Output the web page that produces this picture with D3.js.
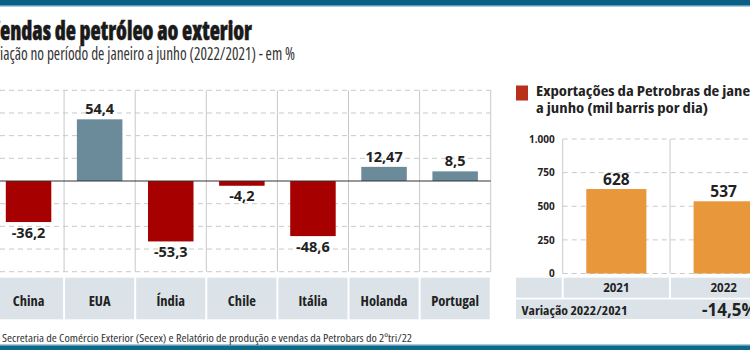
<!DOCTYPE html>
<html>
<head>
<meta charset="utf-8">
<script src="https://cdn.jsdelivr.net/npm/d3@7"></script>
<style>
  body { margin: 0; background: #fff; }
  svg { display: block; }
</style>
</head>
<body>
<div id="chart"></div>
<script>
// Data
const countries = ["China", "EUA", "Índia", "Chile", "Itália", "Holanda", "Portugal"];
const variation = [-36.2, 54.4, -53.3, -4.2, -48.6, 12.47, 8.5];
const varTicks = [-80, -60, -40, -20, 0, 20, 40, 60, 80];

const years = ["2021", "2022"];
const exportsBpd = [628, 537];
const exportTicks = [0, 250, 500, 750, 1000];

const W = 750, H = 350;
const font = "'Open Sans', 'DejaVu Sans Condensed', sans-serif";
const ink = "#222";
const gridColor = "#c9c9c9";
const bandFill = "#dbe2e8";

const svg = d3.select("#chart").append("svg")
    .attr("width", W)
    .attr("height", H)
    .style("font-family", font);

// helper for text styling
function styleText(sel, size, weight, stretch, color) {
    return sel.style("font-size", size + "px")
        .style("font-weight", weight)
        .style("font-stretch", stretch)
        .style("fill", color || ink);
}

// top and bottom strips
svg.append("rect").attr("x", 0).attr("y", 0).attr("width", W).attr("height", 5).attr("fill", "#0b5f86");
svg.append("rect").attr("x", 0).attr("y", 5).attr("width", W).attr("height", 1.5).attr("fill", "#5c9ab8");
svg.append("rect").attr("x", 0).attr("y", 344.5).attr("width", W).attr("height", 1.5).attr("fill", "#5c9ab8");
svg.append("rect").attr("x", 0).attr("y", 346).attr("width", W).attr("height", 4).attr("fill", "#0e6a8a");

// text whose first chars run off the left edge: visible tail spans [0, right]
function clippedText(full, cut, right, y, size, weight, color) {
    const t = styleText(svg.append("text"), size, weight, "75%", color)
        .attr("x", 0)
        .attr("y", y)
        .text(full);
    const wFull = t.node().getComputedTextLength();
    const startVis = t.node().getStartPositionOfChar(cut).x;
    const k = right / (wFull - startVis);
    t.attr("textLength", wFull * k)
        .attr("lengthAdjust", "spacingAndGlyphs");
    const off = t.node().getStartPositionOfChar(cut).x;
    t.attr("x", -off);
    return t;
}

// Titles
clippedText("Vendas de petróleo ao exterior", 1, 252, 40, 26, 800, "#1a1a1a")
    .style("stroke", "#1a1a1a")
    .style("stroke-width", 0.5);
clippedText("Variação no período de janeiro a junho (2022/2021) - em %", 3, 295, 60, 17.5, 400, "#333");

// ---------- Left chart: variation by country ----------
const x = d3.scaleBand()
    .domain(countries)
    .range([-7, 490.7]);

const y = d3.scaleLinear()
    .domain([-80, 80])
    .range([271.7, 90.3]);

const bw = x.bandwidth() * 0.64;

// horizontal dashed gridlines
svg.append("g")
    .selectAll("line")
    .data(varTicks.filter(t => t !== 0))
    .enter()
    .append("line")
    .attr("x1", 0)
    .attr("x2", 490.7)
    .attr("y1", d => y(d))
    .attr("y2", d => y(d))
    .style("stroke", gridColor)
    .style("stroke-width", 1)
    .style("stroke-dasharray", "5,4");

// vertical column lines
const colEdges = countries.map(c => x(c) + x.bandwidth()).filter(v => v > 0);
svg.append("g")
    .selectAll("line")
    .data(colEdges)
    .enter()
    .append("line")
    .attr("x1", d => d)
    .attr("x2", d => d)
    .attr("y1", y(80))
    .attr("y2", y(-80))
    .style("stroke", gridColor)
    .style("stroke-width", 1);

// bars
svg.append("g")
    .selectAll("rect")
    .data(countries)
    .enter()
    .append("rect")
    .attr("x", d => x(d) + (x.bandwidth() - bw) / 2)
    .attr("width", bw)
    .attr("y", (d, i) => y(Math.max(0, variation[i])))
    .attr("height", (d, i) => Math.abs(y(variation[i]) - y(0)))
    .style("fill", (d, i) => variation[i] < 0 ? "#a60000" : "#6b8b9a");

// zero line
svg.append("line")
    .attr("x1", 0)
    .attr("x2", 490.7)
    .attr("y1", y(0))
    .attr("y2", y(0))
    .style("stroke", "#333")
    .style("stroke-width", 1.2);

// value labels
styleText(svg.append("g")
    .selectAll("text")
    .data(countries)
    .enter()
    .append("text")
    .attr("x", d => x(d) + x.bandwidth() / 2)
    .attr("y", (d, i) => variation[i] < 0 ? y(variation[i]) + 15.5 : y(variation[i]) - 5)
    .style("text-anchor", "middle")
    .text((d, i) => String(variation[i]).replace(".", ",")), 14.5, 700, "100%");

// category band
const cats = svg.append("g");
cats.selectAll("rect")
    .data(countries)
    .enter()
    .append("rect")
    .attr("x", d => x(d) + 1)
    .attr("width", x.bandwidth() - 2)
    .attr("y", 277.7)
    .attr("height", 41.6)
    .style("fill", bandFill);

styleText(cats.selectAll("text")
    .data(countries)
    .enter()
    .append("text")
    .attr("x", d => x(d) + x.bandwidth() / 2)
    .attr("y", 306)
    .style("text-anchor", "middle")
    .text(d => d), 14.5, 700, "75%");

// ---------- Right chart: Petrobras exports ----------
const x2 = d3.scaleBand()
    .domain(years)
    .range([562.7, 777.3]);

const y2 = d3.scaleLinear()
    .domain([0, 1000])
    .range([273.5, 139]);

// legend
svg.append("rect")
    .attr("x", 516)
    .attr("y", 85.5)
    .attr("width", 12)
    .attr("height", 15)
    .style("fill", "#b8301c");

const legendLines = ["Exportações da Petrobras de janeiro", "a junho (mil barris por dia)"];
const legendText = styleText(svg.append("g")
    .selectAll("text")
    .data(legendLines)
    .enter()
    .append("text")
    .attr("x", 536)
    .attr("y", (d, i) => 96 + i * 17)
    .text(d => d), 15, 700, "75%");
// widen both lines by the factor that brings the second one to its measured width
const legendK = 172 / legendText.nodes()[1].getComputedTextLength();
legendText.each(function () {
    d3.select(this)
        .attr("textLength", this.getComputedTextLength() * legendK)
        .attr("lengthAdjust", "spacingAndGlyphs");
});

// gridlines
svg.append("g")
    .selectAll("line")
    .data(exportTicks)
    .enter()
    .append("line")
    .attr("x1", 562.7)
    .attr("x2", W)
    .attr("y1", d => y2(d))
    .attr("y2", d => y2(d))
    .style("stroke", gridColor)
    .style("stroke-width", 1)
    .style("stroke-dasharray", "5,4");

svg.append("g")
    .selectAll("line")
    .data(years)
    .enter()
    .append("line")
    .attr("x1", d => x2(d))
    .attr("x2", d => x2(d))
    .attr("y1", y2(1000))
    .attr("y2", y2(0))
    .style("stroke", gridColor)
    .style("stroke-width", 1);

// y axis labels
const ptBR = d3.formatLocale({ decimal: ",", thousands: ".", grouping: [3], currency: ["", ""] });
const yAxis = d3.axisLeft(y2)
    .tickValues(exportTicks)
    .tickFormat(ptBR.format(",d"))
    .tickSize(0)
    .tickPadding(8);

const yAxisG = svg.append("g")
    .attr("transform", "translate(562.7,0)")
    .call(yAxis);
yAxisG.select(".domain").remove();
styleText(yAxisG.selectAll("text").style("font-family", font), 10, 700, "100%");

// bars
const bw2 = x2.bandwidth() * 0.56;
svg.append("g")
    .selectAll("rect")
    .data(years)
    .enter()
    .append("rect")
    .attr("x", d => x2(d) + (x2.bandwidth() - bw2) / 2)
    .attr("width", bw2)
    .attr("y", (d, i) => y2(exportsBpd[i]))
    .attr("height", (d, i) => y2(0) - y2(exportsBpd[i]))
    .style("fill", "#e8973a");

styleText(svg.append("g")
    .selectAll("text")
    .data(years)
    .enter()
    .append("text")
    .attr("x", d => x2(d) + x2.bandwidth() / 2)
    .attr("y", (d, i) => y2(exportsBpd[i]) - 4)
    .style("text-anchor", "middle")
    .text((d, i) => exportsBpd[i]), 15.5, 700, "100%");

// year band + variation row
const band2 = svg.append("g");
band2.append("rect")
    .attr("x", 516)
    .attr("y", 277.7)
    .attr("width", 562.7 - 516 - 1)
    .attr("height", 20)
    .style("fill", bandFill);

band2.selectAll("rect.year")
    .data(years)
    .enter()
    .append("rect")
    .attr("class", "year")
    .attr("x", d => x2(d) + 1)
    .attr("width", x2.bandwidth() - 2)
    .attr("y", 277.7)
    .attr("height", 20)
    .style("fill", bandFill);

styleText(band2.selectAll("text.year")
    .data(years)
    .enter()
    .append("text")
    .attr("class", "year")
    .attr("x", d => x2(d) + x2.bandwidth() / 2)
    .attr("y", 292)
    .style("text-anchor", "middle")
    .text(d => d), 11.5, 700, "100%");

band2.append("rect")
    .attr("x", 516)
    .attr("y", 299.5)
    .attr("width", W - 516)
    .attr("height", 19.5)
    .style("fill", bandFill);

styleText(band2.append("text")
    .attr("x", 521.5)
    .attr("y", 315)
    .attr("textLength", 106)
    .attr("lengthAdjust", "spacingAndGlyphs")
    .text("Variação 2022/2021"), 12, 700, "75%");

const change = (exportsBpd[1] - exportsBpd[0]) / exportsBpd[0] * 100;
styleText(band2.append("text")
    .attr("x", 702)
    .attr("y", 315.5)
    .text(ptBR.format(".1f")(change).replace("−", "-") + "%"), 17, 700, "100%");

// source
styleText(svg.append("text")
    .attr("x", 2)
    .attr("y", 342)
    .attr("textLength", 410)
    .attr("lengthAdjust", "spacingAndGlyphs")
    .text("Secretaria de Comércio Exterior (Secex) e Relatório de produção e vendas da Petrobars do 2ºtri/22"), 11, 400, "75%", "#333");
</script>
</body>
</html>
